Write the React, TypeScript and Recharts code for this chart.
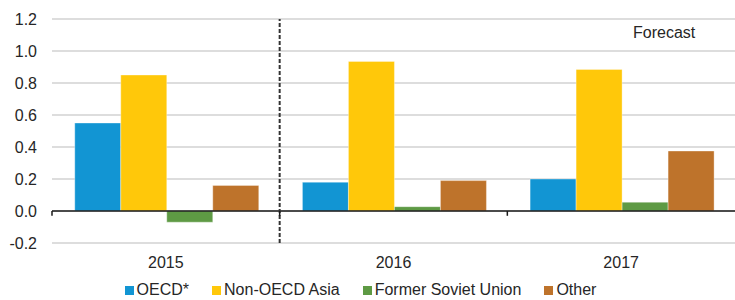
import {
  BarChart,
  Bar,
  XAxis,
  YAxis,
  CartesianGrid,
  ReferenceLine,
  Legend,
} from 'recharts';

const years = ['2015', '2016', '2017'];
const oecd = [0.55, 0.18, 0.2];
const nonOecdAsia = [0.85, 0.935, 0.885];
const formerSoviet = [-0.07, 0.027, 0.055];
const other = [0.16, 0.19, 0.375];
const yTicks = [-0.2, 0, 0.2, 0.4, 0.6, 0.8, 1.0, 1.2];

const seriesNames = ['OECD*', 'Non-OECD Asia', 'Former Soviet Union', 'Other'];
const seriesKeys = ['oecd', 'asia', 'fsu', 'other'];
const seriesColors = ['#1295d3', '#ffc80a', '#5e9a44', '#be732b'];

const data = years.map((year, i) => ({
  year,
  oecd: oecd[i],
  asia: nonOecdAsia[i],
  fsu: formerSoviet[i],
  other: other[i],
}));

const font = '"Liberation Sans", Arial, sans-serif';
const textColor = '#262626';

function LegendRow() {
  return (
    <div
      style={{
        display: 'flex',
        justifyContent: 'center',
        alignItems: 'center',
        height: 24,
        boxSizing: 'border-box',
        paddingTop: 10,
        paddingRight: 14,
        fontFamily: font,
        fontSize: 16,
        color: textColor,
        gap: 23,
      }}
    >
      {seriesNames.map((name, i) => (
        <div key={name} style={{ display: 'flex', alignItems: 'center' }}>
          <span
            style={{
              display: 'inline-block',
              width: 9,
              height: 9,
              background: seriesColors[i],
              marginRight: 3,
            }}
          />
          <span>{name}</span>
        </div>
      ))}
    </div>
  );
}

export default function App() {
  return (
    <div style={{ position: 'absolute', left: 0, top: 0, width: 735, height: 300 }}>
      <BarChart
        width={735}
        height={300}
        data={data}
        margin={{ top: 19, right: 0, left: 0, bottom: 3 }}
        barGap={0}
        barCategoryGap="10%"
      >
        <CartesianGrid vertical={false} stroke="#d2d2d2" strokeWidth={1.5} />
        <XAxis
          dataKey="year"
          axisLine={false}
          tickLine={false}
          tickSize={0}
          tickMargin={14}
          height={30}
          tick={{ fontSize: 16, fill: textColor, fontFamily: font }}
        />
        <YAxis
          domain={[-0.2, 1.2]}
          ticks={yTicks}
          width={52}
          axisLine={false}
          tickLine={false}
          tickSize={0}
          tickMargin={15}
          tickFormatter={(v) => Number(v).toFixed(1)}
          tick={{ fontSize: 16, fill: textColor, fontFamily: font }}
        />
        <Legend verticalAlign="bottom" height={24} content={() => <LegendRow />} />
        {seriesKeys.map((key, i) => (
          <Bar
            key={key}
            dataKey={key}
            name={seriesNames[i]}
            fill={seriesColors[i]}
            stroke="rgba(255,255,255,0.35)"
            strokeWidth={1}
            isAnimationActive={false}
          />
        ))}
        <ReferenceLine y={0} stroke="#1a1a1a" strokeWidth={1.5} />
        <ReferenceLine
          x="2015"
          position="end"
          stroke="#333333"
          strokeWidth={2}
          strokeDasharray="4 2"
        />
        {years.map((y) => (
          <ReferenceLine
            key={'s' + y}
            segment={[
              { x: y, y: 0 },
              { x: y, y: -0.03 },
            ]}
            position="start"
            stroke="#1a1a1a"
            strokeWidth={1.5}
          />
        ))}
      </BarChart>
      <div
        style={{
          position: 'absolute',
          left: 633,
          top: 24,
          fontFamily: font,
          fontSize: 16,
          color: textColor,
        }}
      >
        Forecast
      </div>
    </div>
  );
}
